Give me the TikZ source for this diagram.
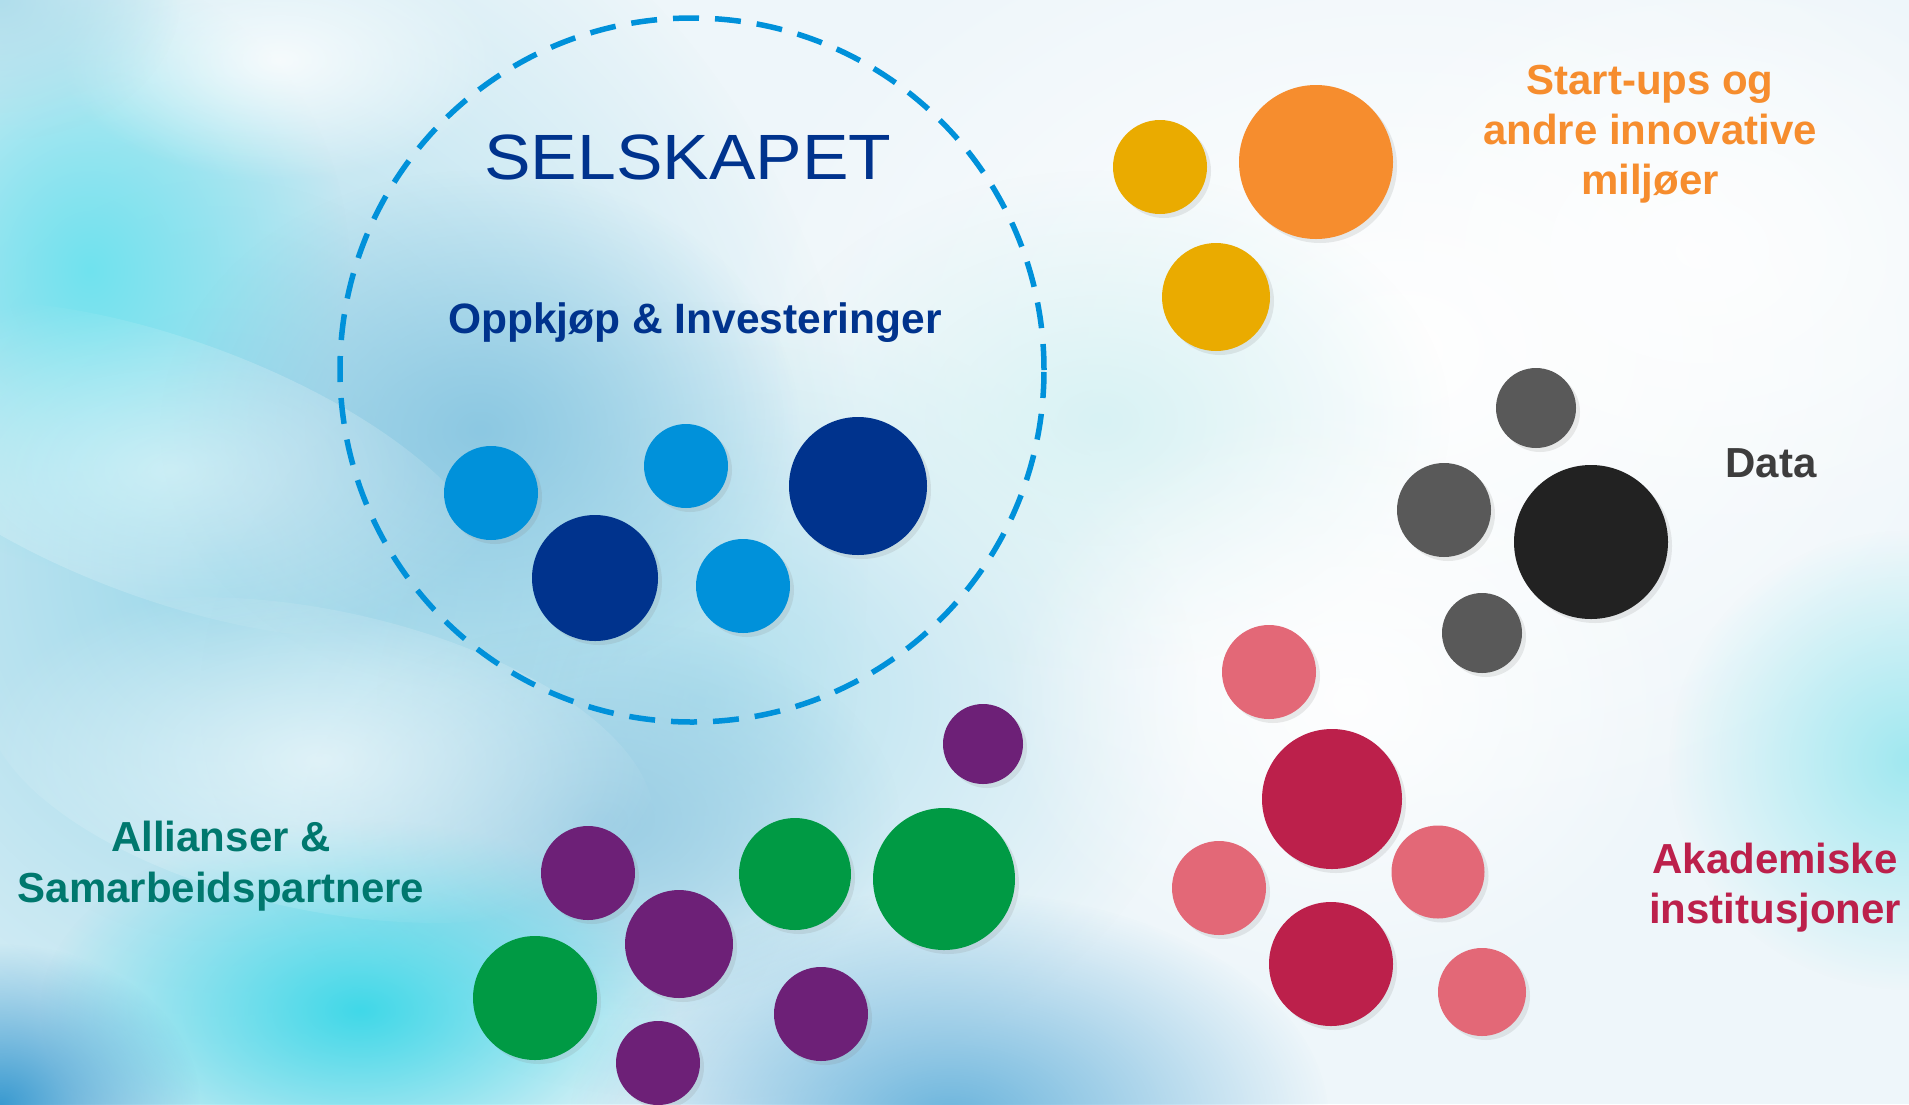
\documentclass[tikz,border=0pt]{standalone}
\usepackage{fontspec}
\usepackage{graphicx}
\setmainfont{Liberation Sans}
\usetikzlibrary{fadings,shadows}
\definecolor{lblue}{HTML}{0091DA}
\definecolor{dblue}{HTML}{00338D}
\definecolor{yel}{HTML}{EAAB00}
\definecolor{ora}{HTML}{F68D2E}
\definecolor{gry}{HTML}{595959}
\definecolor{blk}{HTML}{222222}
\definecolor{pnk}{HTML}{E36877}
\definecolor{crim}{HTML}{BC204B}
\definecolor{pur}{HTML}{6D2077}
\definecolor{grn}{HTML}{009A44}
\definecolor{tealT}{HTML}{00786E}
\definecolor{dataT}{HTML}{3D3D3D}
\definecolor{bgbase}{HTML}{EEF6FA}
\definecolor{bgA}{HTML}{9CD8EA}
\definecolor{bgB}{HTML}{70E2EE}
\definecolor{bgC}{HTML}{8CC8E2}
\definecolor{bgD}{HTML}{9ACDE4}
\definecolor{bgE}{HTML}{40D8E8}
\definecolor{bgF}{HTML}{6AB4DC}
\definecolor{bgG}{HTML}{3A9AD0}
\definecolor{bgH}{HTML}{A0E8F0}
\definecolor{bgI}{HTML}{D8F2F4}
\definecolor{bgJ}{HTML}{B0DEEC}
\tikzfading[name=blob, inner color=transparent!0, outer color=transparent!100]
\begin{document}
\begin{tikzpicture}[x=1pt,y=-1pt,
  dot/.style={circle, inner sep=0pt, minimum size=#1pt,
    drop shadow={opacity=0.16, shadow xshift=4pt, shadow yshift=-4pt}},
  lbl/.style={font=\fontsize{42}{50}\selectfont\bfseries, align=center, inner sep=0pt},
  bl/.style={path fading=blob}
]
% ---------- background ----------
\useasboundingbox (0,0) rectangle (1909,1104);
\begin{scope}
\clip (0,0) rectangle (1909,1104);
\fill[bgbase] (0,0) rectangle (1909,1104);
\fill[white, bl] (1400,350) ellipse (700 and 500);
\fill[bgA, bl] (220,560) ellipse (650 and 760);
\fill[bgA, bl, opacity=0.7] (700,700) ellipse (500 and 400);
\fill[bgB, bl] (90,270) ellipse (260 and 300);
\fill[bgC, bl] (480,430) ellipse (320 and 260);
\fill[bgD, bl] (600,820) ellipse (300 and 200);
\fill[bgE, bl] (360,1010) ellipse (320 and 190);
\fill[bgF, bl] (950,1120) ellipse (380 and 230);
\fill[bgG, bl] (0,1104) ellipse (200 and 160);
\fill[bgH, bl] (1909,760) ellipse (240 and 230);
\fill[bgI, bl] (1100,420) ellipse (350 and 250);
\fill[white, bl, opacity=0.5, rotate around={-20:(170,470)}] (170,470) ellipse (340 and 130);
\fill[white, bl, opacity=0.6, rotate around={-12:(320,760)}] (320,760) ellipse (340 and 150);
\fill[white, bl, opacity=0.8] (280,60) ellipse (220 and 120);
\fill[white, bl, opacity=0.9] (1350,700) ellipse (350 and 300);
\fill[white, bl, opacity=0.8] (1700,250) ellipse (400 and 300);
\fill[bgJ, bl] (0,0) ellipse (180 and 140);
\end{scope}
% ---------- dashed company circle ----------
\node[circle, draw=lblue, line width=5.5pt, dash pattern=on 26pt off 16pt,
  minimum size=704pt, inner sep=0pt] (company) at (692,370) {};
\node[font=\fontsize{64}{70}\selectfont, text=dblue, anchor=base, inner sep=0pt] (selskapet) at (688,179) {\scalebox{1.09}[1]{SELSKAPET}};
\node[lbl, font=\fontsize{42.5}{48}\selectfont\bfseries, text=dblue, anchor=base] (oppkjop) at (695,333) {Oppkjøp \& Investeringer};
% blue circles
\node[dot=94, fill=lblue] (b1) at (491,493) {};
\node[dot=84, fill=lblue] (b2) at (686,466) {};
\node[dot=138, fill=dblue] (b3) at (858,486) {};
\node[dot=126, fill=dblue] (b4) at (595,578) {};
\node[dot=94, fill=lblue] (b5) at (743,586) {};
% ---------- start-ups ----------
\node[dot=94, fill=yel] (y1) at (1160,167) {};
\node[dot=154, fill=ora] (o1) at (1316,162) {};
\node[dot=108, fill=yel] (y2) at (1216,297) {};
\node[lbl, text=ora] (startups) at (1650,134) {Start-ups og\\andre innovative\\miljøer};
% ---------- data ----------
\node[dot=80, fill=gry] (g1) at (1536,408) {};
\node[dot=94, fill=gry] (g2) at (1444,510) {};
\node[dot=154, fill=blk] (g3) at (1591,542) {};
\node[dot=80, fill=gry] (g4) at (1482,633) {};
\node[lbl, text=dataT, anchor=base] (data) at (1771,477) {Data};
% ---------- academic ----------
\node[dot=94, fill=pnk] (p1) at (1269,672) {};
\node[dot=140, fill=crim] (c1) at (1332,799) {};
\node[dot=94, fill=pnk] (p2) at (1219,888) {};
\node[dot=93, fill=pnk] (p3) at (1438,872) {};
\node[dot=124, fill=crim] (c2) at (1331,964) {};
\node[dot=88, fill=pnk] (p4) at (1482,992) {};
\node[lbl, text=crim, font=\fontsize{42}{50}\selectfont\bfseries] (akad) at (1775,888) {Akademiske\\institusjoner};
% ---------- alliances ----------
\node[dot=80, fill=pur] (u1) at (983,744) {};
\node[dot=94, fill=pur] (u2) at (588,873) {};
\node[dot=112, fill=grn] (e1) at (795,874) {};
\node[dot=142, fill=grn] (e2) at (944,879) {};
\node[dot=108, fill=pur] (u3) at (679,944) {};
\node[dot=124, fill=grn] (e3) at (535,998) {};
\node[dot=94, fill=pur] (u4) at (821,1014) {};
\node[dot=84, fill=pur] (u5) at (658,1063) {};
\node[lbl, text=tealT, font=\fontsize{42}{51}\selectfont\bfseries] (allianser) at (221,866) {Allianser \&\\Samarbeidspartnere};
\end{tikzpicture}
\end{document}
